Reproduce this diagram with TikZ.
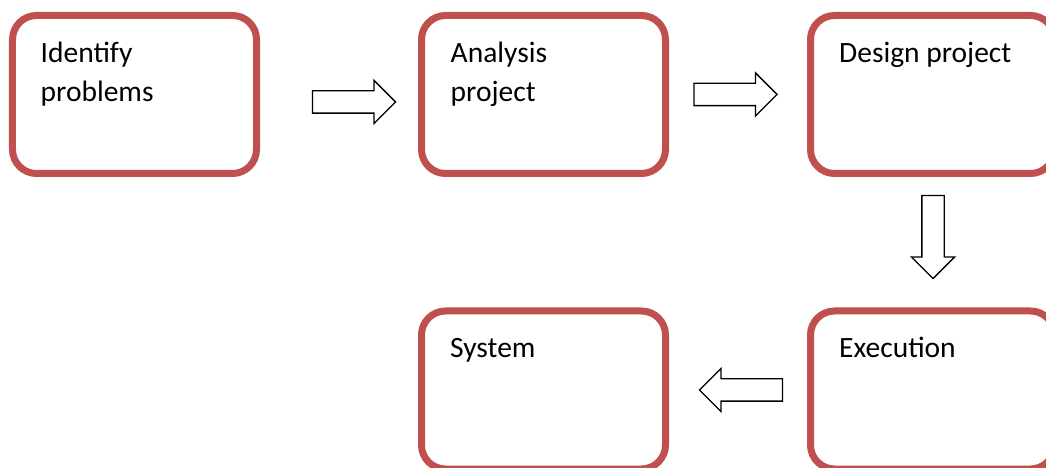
\documentclass[tikz,border=0pt]{standalone}
\usepackage{fontspec}
\setmainfont{Carlito}
\usetikzlibrary{shapes.arrows}
\definecolor{boxred}{RGB}{192,80,77}
\tikzset{
  stagebox/.style={draw=boxred, line width=7bp, rectangle, rounded corners=24bp,
    minimum width=244bp, minimum height=158bp, inner sep=0pt},
  stagetext/.style={anchor=base west, inner sep=0pt, align=left,
    font=\fontsize{29.5bp}{39bp}\selectfont},
  blockarrow/.style={single arrow, draw=black, line width=1.3bp, fill=white,
    inner xsep=0pt, inner ysep=10.5bp, minimum width=42bp, minimum height=83bp,
    single arrow head extend=10.5bp, single arrow tip angle=90}
}
\begin{document}
\begin{tikzpicture}[x=1bp,y=-1bp]
\useasboundingbox (0,0) rectangle (1046,468);
\clip (0,0) rectangle (1046,468);
\fill[white] (0,0) rectangle (1046,468);
% boxes
\node[stagebox] (b1) at (134.5,94.5) {};
\node[stagebox] (b2) at (543.5,94.5) {};
\node[stagebox] (b3) at (932.5,94.5) {};
\node[stagebox] (b4) at (543.5,390) {};
\node[stagebox] (b5) at (932.5,390) {};
% texts (base anchor of a two-line node is the last line)
\node[stagetext] (t1) at (40.5,101.5) {Identify\\problems};
\node[stagetext] (t2) at (450.5,101.5) {Analysis\\project};
\node[stagetext] (t3) at (839,63) {Design project};
\node[stagetext] (t4) at (450,358) {System};
\node[stagetext] (t5) at (839,358) {Execution};
% block arrows
\node[blockarrow] (a1) at (348.5,102) {};
\node[blockarrow] (a2) at (730,94.5) {};
\node[blockarrow, rotate=-90] (a3) at (933,231.5) {};
\node[blockarrow, rotate=180] (a4) at (746.5,390) {};
\end{tikzpicture}
\end{document}
